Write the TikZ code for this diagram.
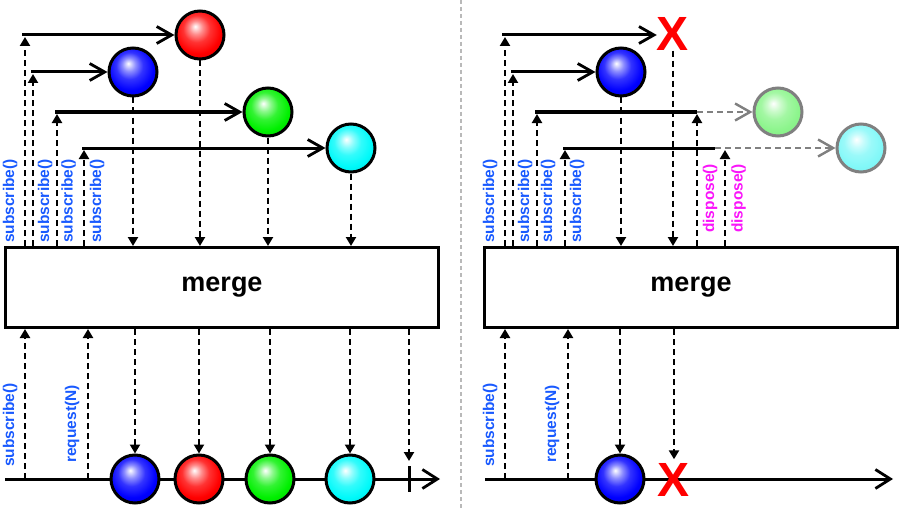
\documentclass[tikz,border=0pt]{standalone}
\usepackage{fontspec}
\setmainfont{Liberation Sans}
\usetikzlibrary{arrows.meta}
\definecolor{subblue}{RGB}{25,90,255}
\definecolor{dispmag}{RGB}{250,20,250}
\definecolor{cR}{RGB}{255,0,0}
\definecolor{cB}{RGB}{0,0,255}
\definecolor{cG}{RGB}{0,240,0}
\definecolor{cC}{RGB}{0,250,250}
\definecolor{cFG}{RGB}{140,245,140}
\definecolor{cFC}{RGB}{130,248,248}
\definecolor{fadeline}{RGB}{128,128,128}
\definecolor{divgray}{RGB}{185,185,185}
\newcommand\mkballshade[3]{\pgfdeclareradialshading{#1}{\pgfpoint{-5bp}{9bp}}{color(0bp)=(white); color(7bp)=(#2!45!white); color(14bp)=(#2!80!white); color(24bp)=(#2); color(34bp)=(#2!#3!black); color(50bp)=(#2!#3!black)}}
\mkballshade{shR}{cR}{85}
\mkballshade{shB}{cB}{85}
\mkballshade{shG}{cG}{85}
\mkballshade{shC}{cC}{88}
\mkballshade{shFG}{cFG}{95}
\mkballshade{shFC}{cFC}{95}
\begin{document}
\begin{tikzpicture}[x=1pt,y=-1pt,
  solidl/.style={line width=3pt, black},
  dsh/.style={line width=2.6pt, black, dash pattern=on 6pt off 4pt},
  uparr/.style={dsh, -{Triangle[length=9pt,width=10pt]}},
  downarr/.style={dsh, -{Triangle[length=9pt,width=10pt]}},
  barb/.style={-{Straight Barb[length=15pt,width=17pt,line width=2.8pt]}},
  obarb/.style={-{Straight Barb[length=15pt,width=19pt,line width=2.8pt]}},
  fadel/.style={line width=2.2pt, fadeline, dash pattern=on 6pt off 4pt},
  fbarb/.style={-{Straight Barb[length=15pt,width=17pt,line width=2.4pt]}},
  ball/.style={circle, draw=black, line width=3pt, minimum size=48pt, inner sep=0pt},
  fball/.style={ball, draw=fadeline},
  boxn/.style={draw, line width=3pt, minimum height=80pt, inner sep=0pt, font=\bfseries\fontsize{27}{27}\selectfont},
  sublbl/.style={rotate=90, anchor=west, inner sep=0pt, font=\bfseries\fontsize{15.5}{15.5}\selectfont, text=subblue},
  displbl/.style={sublbl, text=dispmag},
  xmark/.style={inner sep=0pt, text=red, font=\bfseries\fontsize{48}{48}\selectfont}
]
\fill[white] (0,0) rectangle (903,511);
\useasboundingbox (0,0) rectangle (903,511);

% divider
\coordinate (dvt) at (461,0);
\coordinate (dvb) at (461,511);
\draw[divgray, line width=1.4pt, dash pattern=on 4pt off 3pt] (dvt) -- (dvb);

% boxes
\node[boxn, minimum width=433pt] (L) at (222,287.5) {merge};
\node[boxn, minimum width=413pt] (R) at (691,287.5) {merge};

% ================= LEFT TOP =================
\node[ball, shading=shR] (lr) at (200,35) {};
\node[ball, shading=shB] (lb) at (133,72) {};
\node[ball, shading=shG] (lg) at (268,112) {};
\node[ball, shading=shC] (lc) at (351,148) {};
\coordinate (lh1) at (22,35);
\coordinate (lh2) at (31,72);
\coordinate (lh3) at (55,112);
\coordinate (lh4) at (82,148);
\coordinate (lu1) at (25,37);
\coordinate (lu2) at (33,74);
\coordinate (lu3) at (57,114);
\coordinate (lu4) at (84,150);
\draw[solidl,barb] (lh1) -- (lr);
\draw[solidl,barb] (lh2) -- (lb);
\draw[solidl,barb] (lh3) -- (lg);
\draw[solidl,barb] (lh4) -- (lc);
\draw[uparr] (lu1 |- L.north) -- (lu1);
\draw[uparr] (lu2 |- L.north) -- (lu2);
\draw[uparr] (lu3 |- L.north) -- (lu3);
\draw[uparr] (lu4 |- L.north) -- (lu4);
\draw[downarr] (lr) -- (lr |- L.north);
\draw[downarr] (lb) -- (lb |- L.north);
\draw[downarr] (lg) -- (lg |- L.north);
\draw[downarr] (lc) -- (lc |- L.north);
\node[sublbl] (ls1) at (10,243) {subscribe()};
\node[sublbl] (ls2) at (45,243) {subscribe()};
\node[sublbl] (ls3) at (68.5,243) {subscribe()};
\node[sublbl] (ls4) at (97,243) {subscribe()};

% ================= LEFT BOTTOM =================
\coordinate (lo1) at (5,479);
\coordinate (lo2) at (440,479);
\draw[solidl,obarb] (lo1) -- (lo2);
\coordinate (lq1) at (25,479);
\coordinate (lq2) at (88,479);
\draw[uparr] (lq1) -- (lq1 |- L.south);
\draw[uparr] (lq2) -- (lq2 |- L.south);
\node[ball, shading=shB] (lob) at (135,479) {};
\node[ball, shading=shR] (lor) at (199,479) {};
\node[ball, shading=shG] (log) at (270,479) {};
\node[ball, shading=shC] (loc) at (350,479) {};
\draw[downarr] (lob |- L.south) -- (lob);
\draw[downarr] (lor |- L.south) -- (lor);
\draw[downarr] (log |- L.south) -- (log);
\draw[downarr] (loc |- L.south) -- (loc);
\coordinate (lend) at (409,461);
\draw[downarr] (lend |- L.south) -- (lend);
\coordinate (lt1) at (409,466);
\coordinate (lt2) at (409,492);
\draw[solidl] (lt1) -- (lt2);
\node[sublbl] (lbs) at (10,467) {subscribe()};
\node[sublbl] (lbr) at (72,463) {request(N)};

% ================= RIGHT TOP =================
\node[xmark] (rx) at (673,34) {X};
\node[ball, shading=shB] (rb) at (621,72) {};
\node[fball, shading=shFG] (rfg) at (778,112) {};
\node[fball, shading=shFC] (rfc) at (861,148) {};
\coordinate (rh1) at (502,35);
\coordinate (rh2) at (511,72);
\coordinate (rh3) at (535,112);
\coordinate (rh4) at (563,148);
\coordinate (ru1) at (505,37);
\coordinate (ru2) at (513,74);
\coordinate (ru3) at (537,114);
\coordinate (ru4) at (565,150);
\draw[solidl,barb] (rh1) -- (rh1 -| rx.west);
\draw[solidl,barb] (rh2) -- (rb);
\coordinate (rd1) at (697,112);
\coordinate (rd2) at (715,148);
\draw[solidl] (rh3) -- (rd1);
\draw[solidl] (rh4) -- (rd2);
\draw[fadel,fbarb] (rd1) -- (rfg);
\draw[fadel,fbarb] (rd2) -- (rfc);
\draw[uparr] (ru1 |- R.north) -- (ru1);
\draw[uparr] (ru2 |- R.north) -- (ru2);
\draw[uparr] (ru3 |- R.north) -- (ru3);
\draw[uparr] (ru4 |- R.north) -- (ru4);
\coordinate (rdu1) at (697,114);
\coordinate (rdu2) at (725,150);
\draw[uparr] (rdu1 |- R.north) -- (rdu1);
\draw[uparr] (rdu2 |- R.north) -- (rdu2);
\draw[downarr] (rx.south) -- (rx.south |- R.north);
\draw[downarr] (rb) -- (rb |- R.north);
\node[sublbl] (rs1) at (490,243) {subscribe()};
\node[sublbl] (rs2) at (525,243) {subscribe()};
\node[sublbl] (rs3) at (548,243) {subscribe()};
\node[sublbl] (rs4) at (577,243) {subscribe()};
\node[displbl] (rdl1) at (710,233) {dispose()};
\node[displbl] (rdl2) at (738.5,233) {dispose()};

% ================= RIGHT BOTTOM =================
\coordinate (ro1) at (485,479);
\coordinate (ro2) at (893,479);
\draw[solidl,obarb] (ro1) -- (ro2);
\coordinate (rq1) at (505,479);
\coordinate (rq2) at (568,479);
\draw[uparr] (rq1) -- (rq1 |- R.south);
\draw[uparr] (rq2) -- (rq2 |- R.south);
\node[ball, shading=shB] (rob) at (620,479) {};
\node[xmark] (rox) at (674,480) {X};
\draw[downarr] (rob |- R.south) -- (rob);
\draw[downarr, shorten >=4pt] (rox.north |- R.south) -- (rox.north);
\node[sublbl] (rbs) at (490,467) {subscribe()};
\node[sublbl] (rbr) at (552,463) {request(N)};
\end{tikzpicture}
\end{document}
